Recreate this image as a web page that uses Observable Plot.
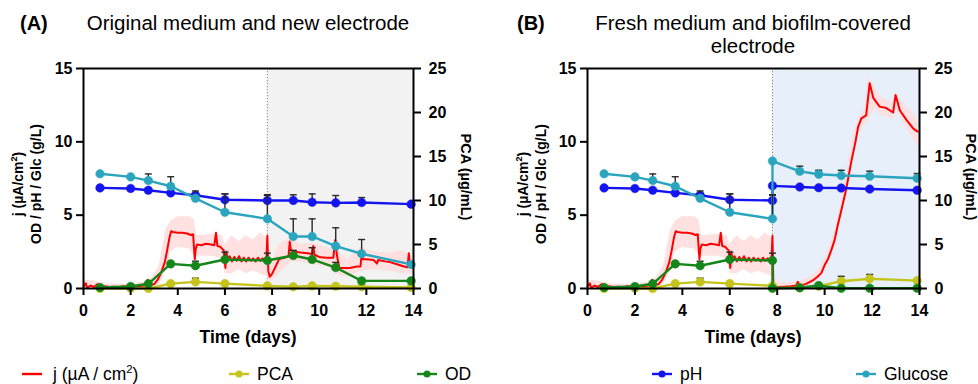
<!DOCTYPE html>
<html><head><meta charset="utf-8">
<script src="https://cdn.jsdelivr.net/npm/d3@7"></script>
<script src="https://cdn.jsdelivr.net/npm/@observablehq/plot@0.6"></script>
<style>
body{margin:0;background:#fff;}
#root{position:relative;width:978px;height:384px;overflow:hidden;font-family:"Liberation Sans",Arial,sans-serif;}
.panel{position:absolute;top:55px;}
#overlay{position:absolute;left:0;top:0;pointer-events:none;}
</style></head><body><div id="root"></div>
<script>
// ---------- DATA ----------
const xTicks = [0, 2, 4, 6, 8, 10, 12, 14];
const leftTicks = [0, 5, 10, 15];
const pcaTicks = [0, 5, 10, 15, 20, 25];
const leftDomain = [0, 15];
const pcaDomain = [0, 25];
const timeDomain = [0, 14];
const switchDay = 7.8;

// Panel A sampling days and series
const daysA = [0.7, 2.0, 2.75, 3.7, 4.75, 6.0, 7.8, 8.9, 9.7, 10.7, 11.8, 13.9];
const glucoseA = [7.82, 7.61, 7.36, 6.97, 6.15, 5.2, 4.75, 3.55, 3.55, 2.89, 2.37, 1.64];
const glucoseErrA = [0, 0, 0.45, 0.65, 0.5, 1.25, 1.65, 1.2, 1.2, 1.25, 0.97, 0.15];
const pHA = [6.86, 6.82, 6.70, 6.52, 6.36, 6.05, 6.0, 6.0, 5.88, 5.84, 5.86, 5.75];
const pHErrA = [0, 0, 0, 0, 0.1, 0.4, 0.35, 0.39, 0.57, 0.5, 0.34, 0];
const odA = [0.07, 0.14, 0.32, 1.68, 1.55, 1.98, 1.91, 2.25, 1.98, 1.43, 0.52, 0.52];
const odErrA = [0, 0, 0, 0, 0.31, 0.5, 0.5, 0.35, 0.8, 0.35, 0, 0];
const pcaA = [0.0, 0.03, 0.0, 0.55, 0.75, 0.55, 0.3, 0.2, 0.3, 0.25, 0.2, 0.12];
const pcaErrA = [0, 0, 0, 0, 0.42, 0, 0, 0, 0, 0, 0, 0];

// Panel B sampling days and series
const daysB = [0.7, 2.0, 2.75, 3.7, 4.75, 6.0, 7.8, 7.8, 8.95, 9.75, 10.7, 11.9, 13.9];
const glucoseB = [7.82, 7.61, 7.36, 6.97, 6.15, 5.2, 4.75, 8.69, 7.99, 7.79, 7.70, 7.65, 7.52];
const glucoseErrB = [0, 0, 0.45, 0.65, 0.5, 1.25, 1.65, 0, 0.35, 0.27, 0.36, 0.35, 0.32];
const pHB = [6.86, 6.82, 6.70, 6.52, 6.36, 6.05, 6.0, 7.0, 6.92, 6.87, 6.85, 6.78, 6.7];
const pHErrB = [0, 0, 0, 0, 0.1, 0.4, 0.35, 0, 0, 0, 0, 0, 0];
const odB = [0.07, 0.14, 0.32, 1.68, 1.55, 1.98, 1.91, 0.02, 0.05, 0.2, 0.02, 0.02, 0.02];
const odErrB = [0, 0, 0, 0, 0.31, 0.5, 0.5, 0, 0, 0, 0, 0, 0];
const pcaB = [0.0, 0.03, 0.0, 0.55, 0.75, 0.55, 0.3, 0.05, 0.08, 0.26, 0.83, 1.1, 0.9];
const pcaErrB = [0, 0, 0, 0, 0.42, 0, 0, 0, 0, 0, 0.55, 0.5, 0];

// Current density j (µA/cm²), shared first period (0 – 7.8 d)
const jTimePre = [0,0.1,0.15,0.3,0.45,0.6,0.7,0.9,1.1,1.3,1.5,1.7,1.9,2.1,2.3,2.5,2.65,2.72,2.78,3.0,3.15,3.3,3.45,3.55,3.65,3.72,3.8,4.0,4.2,4.4,4.55,4.65,4.72,4.76,4.82,5.0,5.2,5.4,5.55,5.62,5.68,5.8,5.95,6.02,6.06,6.12,6.2,6.3,6.4,6.5,6.6,6.7,6.8,6.9,7.0,7.1,7.2,7.3,7.4,7.5,7.6,7.7,7.76,7.8];
const jPre = [0.15,0.35,0.05,0.2,0.1,0.3,0.05,0.15,0.1,0.12,0.08,0.15,0.1,0.12,0.15,0.18,0.2,0.6,0.2,0.3,0.6,1.1,1.8,2.6,3.5,3.9,3.85,3.8,3.8,3.75,3.65,3.7,2.0,2.7,3.0,2.95,3.05,3.0,2.95,3.8,2.9,2.85,2.6,1.4,2.5,2.0,2.2,1.85,2.15,1.9,2.2,1.85,2.1,1.85,2.1,1.9,2.05,1.85,2.1,1.9,2.05,1.85,2.0,3.6];
const jTimePostA = [7.84,7.9,8.0,8.15,8.3,8.5,8.7,8.75,8.8,9.0,9.2,9.5,9.7,9.75,9.8,10.0,10.3,10.6,10.68,10.75,10.85,11.0,11.3,11.6,11.75,11.8,11.85,12.0,12.3,12.45,12.5,12.8,13.0,13.3,13.6,13.75,13.8,13.85,14.0];
const jPostA = [1.2,0.8,1.0,1.5,2.0,2.1,2.2,3.2,2.6,2.5,2.45,2.4,2.35,2.9,2.3,2.15,2.1,2.1,3.3,2.3,1.4,1.4,1.4,1.5,1.5,2.3,2.0,2.0,1.95,1.7,1.95,1.85,1.8,1.65,1.5,1.45,2.4,1.5,1.5];
const jTimePostB = [7.84,8.0,8.3,8.6,8.8,8.87,8.95,9.2,9.5,9.7,9.86,10.0,10.14,10.3,10.42,10.55,10.7,10.9,11.13,11.3,11.41,11.55,11.75,11.9,12.05,12.32,12.6,12.89,12.99,13.17,13.45,13.74,13.92];
const jPostB = [0.15,0.1,0.12,0.15,0.2,0.45,0.2,0.3,0.55,0.8,1.05,1.6,2.0,2.7,3.3,4.3,5.3,6.7,8.7,10.0,11.0,11.6,11.8,14.0,13.0,12.4,12.3,12.0,13.2,12.15,11.5,10.9,10.7];

// j spread (shaded band: low / high)
const bandTimePre = [0,0.5,1,2,2.8,3.2,3.5,3.7,4.0,4.5,4.7,4.8,5.5,5.9,6.0,6.3,6.6,6.9,7.2,7.5,7.8];
const bandLowPre = [0,0,0,0,0,0.2,1.2,2.5,2.8,2.7,2.2,2.2,2.2,2.0,1.0,1.0,1.3,1.0,1.2,1.0,0.8];
const bandHighPre = [0.6,0.5,0.3,0.3,0.5,1.5,4.0,4.6,4.9,4.9,4.7,3.6,3.7,3.6,3.0,3.6,3.2,3.6,3.3,3.8,3.4];
const bandTimePostA = [7.85,8.0,8.3,8.8,9.2,9.8,10.3,10.8,11.2,11.8,12.3,13.0,13.5,14];
const bandLowPostA = [0.6,0.5,1.0,1.8,1.8,1.6,1.5,0.9,0.8,1.2,1.3,1.2,1.0,1.0];
const bandHighPostA = [3.0,1.8,3.0,3.5,3.0,3.1,2.8,2.6,2.0,2.8,2.5,2.4,2.6,2.2];
const bandTimePostB = [7.85,8.5,9.0,9.5,9.8,10.1,10.4,10.7,11.0,11.2,11.45,11.7,11.85,12.1,12.4,12.6,12.9,13.0,13.2,13.5,13.8,14];
const bandLowPostB = [0,0,0,0.3,0.7,1.5,2.8,4.8,7.5,9.3,10.6,11.2,11.5,12.2,11.8,11.7,11.5,12.3,11.6,10.8,10.0,9.7];
const bandHighPostB = [0.5,0.4,0.5,0.9,1.4,2.4,3.8,5.9,8.6,10.5,11.6,12.3,14.5,13.7,13.0,12.9,12.6,13.3,12.9,12.3,11.8,11.3];

// Labels
const titleA = "Original medium and new electrode";
const titleB1 = "Fresh medium and biofilm-covered";
const titleB2 = "electrode";
const xLabel = "Time (days)";
const yLabel1 = "j (µA/cm";
const yLabel2 = "OD / pH / Glc (g/L)";
const y2Label = "PCA (µg/mL)";
const legendNames = ["j (µA / cm", "PCA", "OD", "pH", "Glucose"];

// ---------- STYLE ----------
const colors = {j: "#ff0000", band: "#ffdede", pca: "#c4c41c", od: "#14861a", pH: "#1414f0", glc: "#2ba5be", err: "#2a2a2a"};
const ratio = (leftDomain[1] - leftDomain[0]) / (pcaDomain[1] - pcaDomain[0]);
const capSymbol = {draw(ctx, size) { const r = Math.sqrt(size / Math.PI); ctx.moveTo(-r, 0); ctx.lineTo(r, 0); }};

function rows(days, vals, errs, scale = 1) {
  return days.map((t, i) => ({t, v: vals[i] * scale, e: (errs ? errs[i] : 0) * scale}));
}
function series(data, color) {
  const errs = data.filter(d => d.e > 0);
  return [
    Plot.line(data, {x: "t", y: "v", stroke: color, strokeWidth: 2.4}),
    Plot.ruleX(errs, {x: "t", y1: "v", y2: d => d.v + d.e, stroke: colors.err, strokeWidth: 1.4}),
    Plot.dot(errs, {x: "t", y: d => d.v + d.e, symbol: capSymbol, r: 3.5, fill: "none", stroke: colors.err, strokeWidth: 1.4}),
    Plot.dot(data, {x: "t", y: "v", r: 4.3, fill: color, stroke: color, strokeWidth: 0.5})
  ];
}

function panel(o) {
  const jData = o.jt.map((t, i) => ({t, v: o.jv[i]}));
  const band = o.bt.map((t, i) => ({t, lo: o.bl[i], hi: o.bh[i]}));
  return Plot.plot({
    width: 489, height: 300,
    marginLeft: o.ml, marginRight: o.mr, marginTop: 13, marginBottom: 67,
    x: {domain: timeDomain},
    y: {domain: leftDomain},
    style: {fontFamily: "'Liberation Sans', Arial, sans-serif", fontSize: "16px", fontWeight: "bold", color: "#000", background: "transparent", overflow: "visible"},
    marks: [
      Plot.rect([[switchDay, timeDomain[1]]], {x1: d => d[0], x2: d => d[1], y1: () => leftDomain[0], y2: () => leftDomain[1], fill: o.shade}),
      Plot.ruleX([switchDay], {stroke: "#8a8a8a", strokeWidth: 1, strokeDasharray: "1.2,1.8"}),
      Plot.areaY(band, {x: "t", y1: "lo", y2: "hi", fill: colors.band, fillOpacity: 0.9, curve: "linear"}),
      Plot.line(jData, {x: "t", y: "v", stroke: colors.j, strokeWidth: 2}),
      ...series(rows(o.days, o.pca, o.pcaErr, ratio), colors.pca),
      ...series(rows(o.days, o.od, o.odErr), colors.od),
      ...series(rows(o.days, o.pH, o.pHErr), colors.pH),
      ...series(rows(o.days, o.glc, o.glcErr), colors.glc),
      Plot.frame({stroke: "#000", strokeWidth: 2}),
      Plot.axisX({ticks: xTicks, tickSize: 7, tickPadding: 9, strokeWidth: 2, label: null, fontWeight: "bold", fontSize: 16}),
      Plot.axisY({ticks: leftTicks, tickSize: 7, tickPadding: 4, strokeWidth: 2, label: null, fontWeight: "bold", fontSize: 16}),
      Plot.axisY(pcaTicks.map(v => v * ratio), {anchor: "right", tickSize: 7, tickPadding: 8, strokeWidth: 2, label: null, tickFormat: d => String(Math.round(d / ratio)), fontWeight: "bold", fontSize: 16})
    ]
  });
}

const root = document.getElementById("root");
const pA = panel({ml: 83, mr: 76, shade: "#f2f2f2",
  days: daysA, glc: glucoseA, glcErr: glucoseErrA, pH: pHA, pHErr: pHErrA, od: odA, odErr: odErrA, pca: pcaA, pcaErr: pcaErrA,
  jt: jTimePre.concat(jTimePostA), jv: jPre.concat(jPostA),
  bt: bandTimePre.concat(bandTimePostA), bl: bandLowPre.concat(bandLowPostA), bh: bandHighPre.concat(bandHighPostA)});
const pB = panel({ml: 98, mr: 59, shade: "#e7f0fa",
  days: daysB, glc: glucoseB, glcErr: glucoseErrB, pH: pHB, pHErr: pHErrB, od: odB, odErr: odErrB, pca: pcaB, pcaErr: pcaErrB,
  jt: jTimePre.concat(jTimePostB), jv: jPre.concat(jPostB),
  bt: bandTimePre.concat(bandTimePostB), bl: bandLowPre.concat(bandLowPostB), bh: bandHighPre.concat(bandHighPostB)});
const dA = document.createElement("div"); dA.className = "panel"; dA.style.left = "0px"; dA.appendChild(pA); root.appendChild(dA);
const dB = document.createElement("div"); dB.className = "panel"; dB.style.left = "489px"; dB.appendChild(pB); root.appendChild(dB);

// ---------- TEXT OVERLAY ----------
const ns = "http://www.w3.org/2000/svg";
const svg = document.createElementNS(ns, "svg");
svg.setAttribute("id", "overlay"); svg.setAttribute("width", 978); svg.setAttribute("height", 384);
svg.setAttribute("font-family", "'Liberation Sans', Arial, sans-serif");
root.appendChild(svg);
function txt(s, x, y, opts = {}) {
  const t = document.createElementNS(ns, "text");
  t.setAttribute("x", x); t.setAttribute("y", y);
  t.setAttribute("font-size", opts.size || 15);
  if (opts.bold) t.setAttribute("font-weight", "bold");
  if (opts.anchor) t.setAttribute("text-anchor", opts.anchor);
  if (opts.rotate) t.setAttribute("transform", `rotate(${opts.rotate},${x},${y})`);
  t.setAttribute("fill", "#000");
  t.appendChild(document.createTextNode(s));
  if (opts.sup) {
    const sp = document.createElementNS(ns, "tspan");
    sp.setAttribute("font-size", opts.size * 0.65); sp.setAttribute("dy", -opts.size * 0.4);
    sp.textContent = opts.sup; t.appendChild(sp);
    const rest = document.createElementNS(ns, "tspan");
    rest.setAttribute("dy", opts.size * 0.4); rest.textContent = opts.after; t.appendChild(rest);
  }
  svg.appendChild(t);
  return t;
}
txt("(A)", 20, 30, {size: 20, bold: true});
txt(titleA, 248, 30, {size: 20.5, anchor: "middle"});
txt("(B)", 517, 30, {size: 20, bold: true});
txt(titleB1, 753, 30, {size: 20.5, anchor: "middle"});
txt(titleB2, 753, 53, {size: 20.5, anchor: "middle"});
for (const [cx, l1x, l2x, rx] of [[248, 23, 41, 461], [753, 528, 546, 966]]) {
  txt(xLabel, cx, 343, {size: 17.5, bold: true, anchor: "middle"});
  txt(yLabel1, l1x, 184, {size: 14, bold: true, anchor: "middle", rotate: -90, sup: "2", after: ")"});
  txt(yLabel2, l2x, 184, {size: 14, bold: true, anchor: "middle", rotate: -90});
  txt(y2Label, rx, 177, {size: 14.5, bold: true, anchor: "middle", rotate: 90});
}
// legend
const legendItems = [
  {x: 22, tx: 53, color: colors.j, dot: false},
  {x: 229, tx: 257, color: colors.pca, dot: true},
  {x: 417, tx: 445, color: colors.od, dot: true},
  {x: 652, tx: 680, color: colors.pH, dot: true},
  {x: 856, tx: 884, color: colors.glc, dot: true}
];
legendItems.forEach((it, i) => {
  const ln = document.createElementNS(ns, "line");
  ln.setAttribute("x1", it.x); ln.setAttribute("x2", it.x + 20); ln.setAttribute("y1", 374); ln.setAttribute("y2", 374);
  ln.setAttribute("stroke", it.color); ln.setAttribute("stroke-width", 2.4); svg.appendChild(ln);
  if (it.dot) {
    const c = document.createElementNS(ns, "circle");
    c.setAttribute("cx", it.x + 10); c.setAttribute("cy", 374); c.setAttribute("r", 3.5); c.setAttribute("fill", it.color); svg.appendChild(c);
  }
  if (i === 0) txt(legendNames[i], it.tx, 380, {size: 17.5, sup: "2", after: ")"});
  else txt(legendNames[i], it.tx, 380, {size: 17.5});
});
</script>
</body></html>
